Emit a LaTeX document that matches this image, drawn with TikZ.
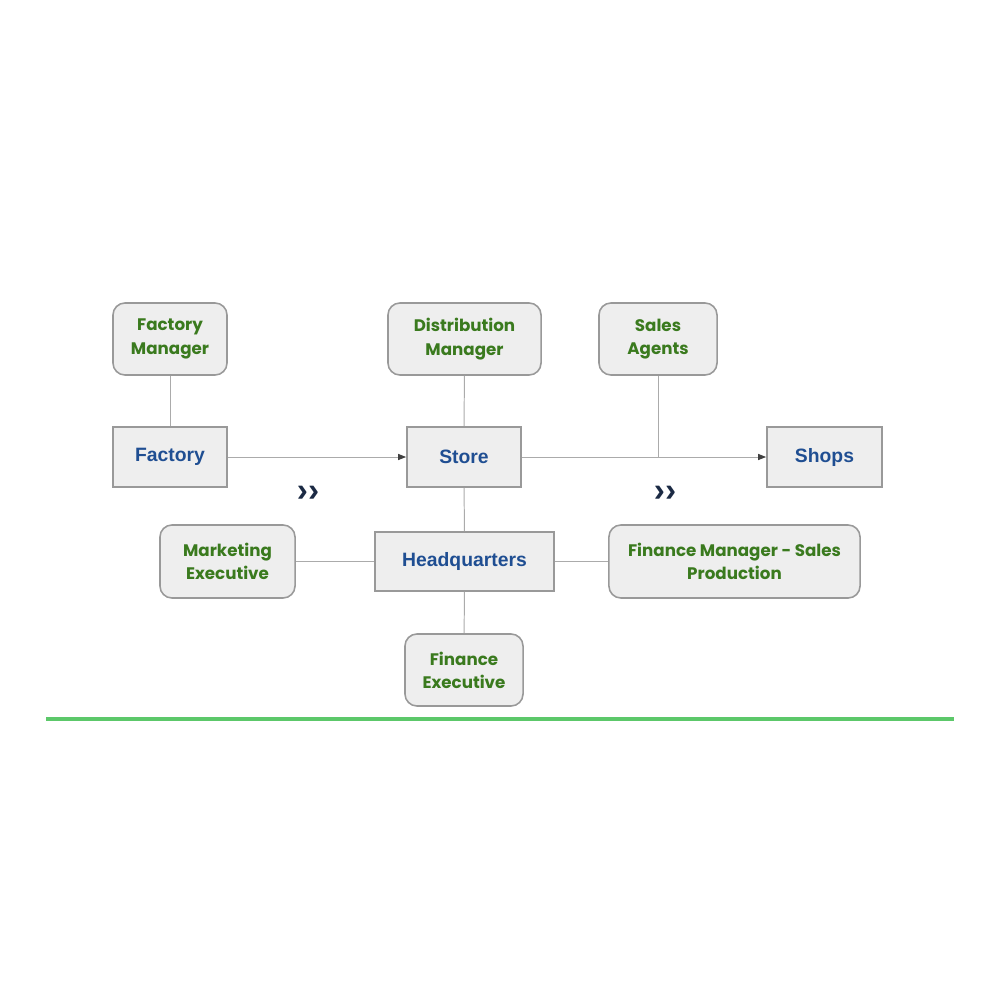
\documentclass[tikz,border=0pt]{standalone}
\usepackage{fontspec}
\setmainfont{Liberation Sans}
\newfontfamily\roleFont{Poppins}
\usetikzlibrary{arrows.meta}
\definecolor{roleGreen}{HTML}{3A7A1E}
\definecolor{unitBlue}{HTML}{1F4E92}
\definecolor{boxFill}{HTML}{EEEEEE}
\definecolor{boxLine}{HTML}{999999}
\definecolor{wire}{HTML}{ABABAB}
\definecolor{chev}{HTML}{1B2A44}
\definecolor{rule}{HTML}{5CC86A}
\begin{document}
\begin{tikzpicture}[x=0.01cm,y=-0.01cm,
  rolebox/.style={draw=boxLine, fill=boxFill, line width=0.45pt, rounded corners=0.12cm,
    inner sep=0pt, align=center, text=roleGreen,
    font=\roleFont\bfseries\fontsize{4.75pt}{6.6pt}\selectfont},
  unitbox/.style={draw=boxLine, fill=boxFill, line width=0.45pt, inner sep=0pt,
    align=center, text=unitBlue, font=\bfseries\fontsize{5.5pt}{6.6pt}\selectfont,
    minimum height=0.60cm},
  wireline/.style={draw=wire, line width=0.28pt},
  flow/.style={wireline, -{Triangle[length=0.08cm,width=0.06cm,color=black!75,fill=black!75]}},
  chevron/.style={text=chev, font=\bfseries\fontsize{9.5pt}{10pt}\selectfont, inner sep=0pt}
]
\useasboundingbox (0,0) rectangle (1000,1000);

% role boxes (rounded)
\node[rolebox, minimum width=1.14cm, minimum height=0.72cm] (fm) at (170,339) {Factory\\Manager};
\node[rolebox, minimum width=1.53cm, minimum height=0.72cm] (dm) at (464.5,339) {Distribution\\Manager};
\node[rolebox, minimum width=1.18cm, minimum height=0.72cm] (sa) at (658,339) {Sales\\Agents};
\node[rolebox, minimum width=1.35cm, minimum height=0.73cm] (me) at (227.5,561.5) {Marketing\\Executive};
\node[rolebox, minimum width=2.51cm, minimum height=0.73cm] (fms) at (734.5,561.5) {Finance Manager - Sales\\Production};
\node[rolebox, minimum width=1.18cm, minimum height=0.72cm] (fe) at (464,670) {Finance\\Executive};

% unit boxes (square)
\node[unitbox, minimum width=1.14cm] (factory) at (170,457) {Factory};
\node[unitbox, minimum width=1.14cm] (store) at (464,457) {Store};
\node[unitbox, minimum width=1.15cm] (shops) at (824.5,457) {Shops};
\node[unitbox, minimum width=1.79cm, minimum height=0.59cm] (hq) at (464.5,561.5) {Headquarters};

% connectors
\draw[wireline] (fm) -- (factory);
\draw[wireline] (dm) -- (store);
\draw[flow] (factory) -- (store);
\draw[flow] (store) -- (shops);
\coordinate (join) at (sa |- store);
\draw[wireline] (sa) -- (join);
\draw[wireline] (store) -- (hq);
\draw[wireline] (hq) -- (me);
\draw[wireline] (hq) -- (fms);
\draw[wireline] (hq) -- (fe);

% flow markers
\node[chevron] (c1) at (308,494) {››};
\node[chevron] (c2) at (665,494) {››};

% green rule
\draw[rule, line width=0.9pt] (46,719) -- (954,719);
\end{tikzpicture}
\end{document}
